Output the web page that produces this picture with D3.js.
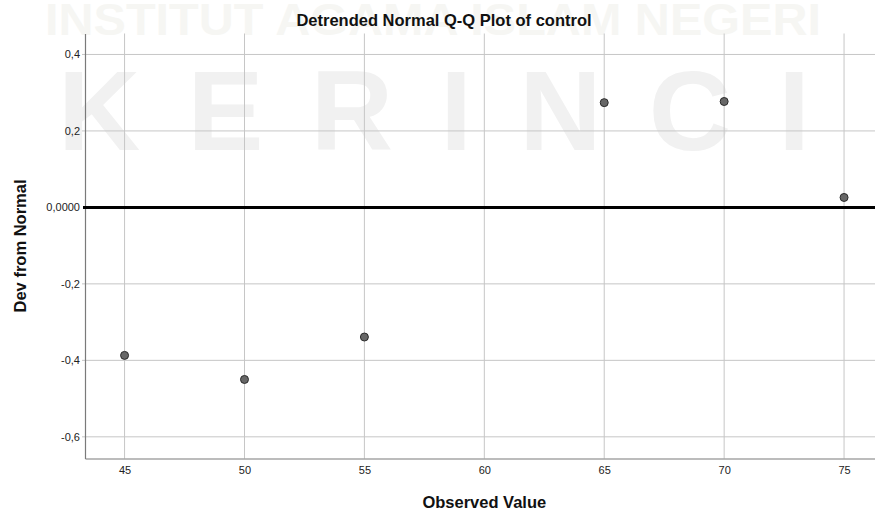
<!DOCTYPE html>
<html>
<head>
<meta charset="utf-8">
<script src="https://cdn.jsdelivr.net/npm/d3@7"></script>
<style>
  body { margin: 0; background: #fff; }
  svg { display: block; font-family: "Liberation Sans", Arial, sans-serif; }
</style>
</head>
<body>
<div id="chart"></div>
<script>
// Observed values and their deviation from the normal line
const observed = [45, 50, 55, 65, 70, 75];
const deviation = [-0.387, -0.450, -0.339, 0.274, 0.277, 0.026];

const xTicks = [45, 50, 55, 60, 65, 70, 75];
const yTicks = [-0.6, -0.4, -0.2, 0, 0.2, 0.4];

const width = 875;
const height = 515;
const margin = {top: 33.5, right: 0, bottom: 56.5, left: 85};

const x = d3.scaleLinear()
    .domain([43.35, 76.29])
    .range([margin.left, width - margin.right]);

const y = d3.scaleLinear()
    .domain([-0.6567, 0.4548])
    .range([height - margin.bottom, margin.top]);

const fmtY = d => d === 0 ? "0,0000" : d3.format(".1f")(d).replace(".", ",").replace("−", "-");

const svg = d3.select("#chart").append("svg")
    .attr("width", width)
    .attr("height", height);

svg.append("rect").attr("width", width).attr("height", height).attr("fill", "#fff");

// faint watermark behind the chart
const wm = svg.append("g").attr("pointer-events", "none");
wm.append("text")
    .attr("x", 45).attr("y", 35)
    .attr("textLength", 776).attr("lengthAdjust", "spacingAndGlyphs")
    .style("font-size", "45px").style("font-weight", "bold")
    .attr("fill", "#f6f6f3")
    .text("INSTITUT AGAMA ISLAM NEGERI");
wm.append("text")
    .attr("x", 58).attr("y", 150)
    .attr("textLength", 752).attr("lengthAdjust", "spacing")
    .style("font-size", "114px").style("font-weight", "bold")
    .attr("fill", "#f1f1f1")
    .text("KERINCI");

// grid
svg.append("g")
    .selectAll("line")
    .data(xTicks)
    .join("line")
    .attr("x1", d => x(d)).attr("x2", d => x(d))
    .attr("y1", margin.top).attr("y2", height - margin.bottom)
    .attr("stroke", "#c6c6c6");

svg.append("g")
    .selectAll("line")
    .data(yTicks.filter(d => d !== 0))
    .join("line")
    .attr("x1", margin.left - 3).attr("x2", width)
    .attr("y1", d => y(d)).attr("y2", d => y(d))
    .attr("stroke", "#c6c6c6");

// axes
const xAxis = svg.append("g")
    .attr("transform", `translate(0,${height - margin.bottom})`)
    .call(d3.axisBottom(x).tickValues(xTicks).tickSize(0).tickPadding(8));
xAxis.select(".domain").attr("stroke", "#7a7a7a").attr("stroke-width", 1.2);
xAxis.selectAll("text").style("font-size", "11px").attr("fill", "#222");

const yAxis = svg.append("g")
    .attr("transform", `translate(${margin.left},0)`)
    .call(d3.axisLeft(y).tickValues(yTicks).tickFormat(fmtY).tickSize(0).tickPadding(5));
yAxis.select(".domain").attr("stroke", "#7a7a7a").attr("stroke-width", 1.2);
yAxis.selectAll("text").style("font-size", "11px").attr("fill", "#222");

// reference line at zero
svg.append("line")
    .attr("x1", margin.left - 2).attr("x2", width)
    .attr("y1", y(0)).attr("y2", y(0))
    .attr("stroke", "#000").attr("stroke-width", 3);

// points
svg.append("g")
    .selectAll("circle")
    .data(observed)
    .join("circle")
    .attr("cx", d => x(d))
    .attr("cy", (d, i) => y(deviation[i]))
    .attr("r", 4)
    .attr("fill", "#676767")
    .attr("stroke", "#2b2b2b")
    .attr("stroke-width", 1);

// titles
svg.append("text")
    .attr("x", 444).attr("y", 26)
    .attr("text-anchor", "middle")
    .style("font-size", "16.5px").style("font-weight", "bold")
    .attr("fill", "#111")
    .text("Detrended Normal Q-Q Plot of control");

svg.append("text")
    .attr("x", x(60)).attr("y", 508)
    .attr("text-anchor", "middle")
    .style("font-size", "16.5px").style("font-weight", "bold")
    .attr("fill", "#111")
    .text("Observed Value");

svg.append("text")
    .attr("transform", `translate(26,${(margin.top + height - margin.bottom) / 2}) rotate(-90)`)
    .attr("text-anchor", "middle")
    .style("font-size", "16.5px").style("font-weight", "bold")
    .attr("fill", "#111")
    .text("Dev from Normal");
</script>
</body>
</html>
